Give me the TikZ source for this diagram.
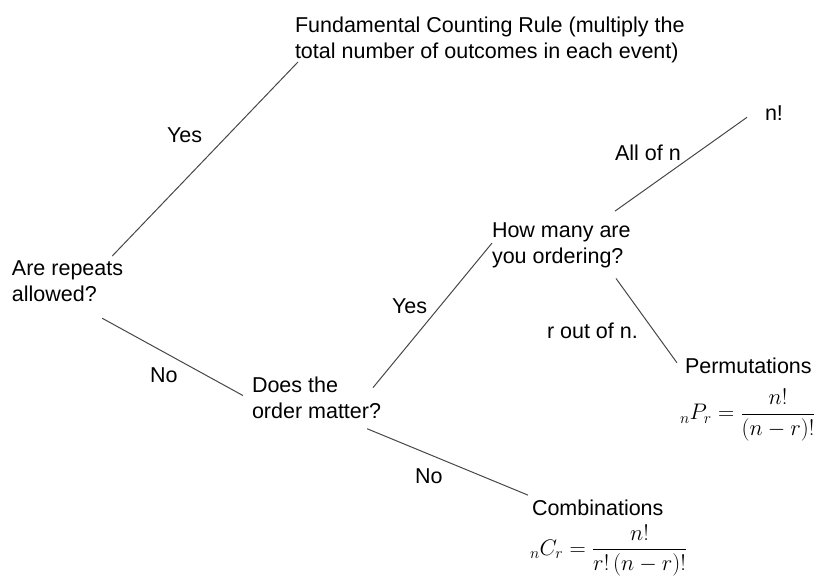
\RequirePackage{fix-cm}
\documentclass[tikz,border=0pt]{standalone}
\usepackage[no-math]{fontspec}
\setmainfont{Liberation Sans}
\usepackage{amsmath}
\usepackage{tikz}

\begin{document}
\begin{tikzpicture}[x=1pt,y=-1pt,
    every node/.style={inner sep=0pt,outer sep=0pt,font=\fontsize{21.5}{25.5}\selectfont},
    txt/.style={anchor=base west,align=left},
    lbl/.style={anchor=base west},
    frm/.style={anchor=west,font=\fontsize{22.5}{27}\selectfont},
    link/.style={draw=black!72,line width=1pt}]
        \useasboundingbox (0,0) rectangle (830,578);

        \node[txt] (fcr) at (295,58.5) {Fundamental Counting Rule (multiply the\\total number of outcomes in each event)};
        \node[txt] (repeats) at (12,301) {Are repeats\\allowed?};
        \node[txt] (order) at (252,418) {Does the\\order matter?};
        \node[txt] (howmany) at (492,263) {How many are\\you ordering?};
        \node[txt] (nfact) at (765,121) {n!};
        \node[txt] (perm) at (685,373) {Permutations};
        \node[frm] (permf) at (680,415) {${}_{n}P_{r} = \dfrac{n!}{(n-r)!}$};
        \node[txt] (comb) at (532,515) {Combinations};
        \node[frm] (combf) at (530,550.5) {${}_{n}C_{r} = \dfrac{n!}{r!\,(n-r)!}$};

        \node[lbl] (yes1) at (167,142) {Yes};
        \node[lbl] (no1) at (150,382) {No};
        \node[lbl] (yes2) at (392,313) {Yes};
        \node[lbl] (alln) at (615,160) {All of n};
        \node[lbl] (routn) at (547,338) {r out of n.};
        \node[lbl] (no2) at (415,483) {No};

        \draw[link] ([shift={(-11,-4.6)}]repeats.north east) -- ([shift={(3,-1)}]fcr.south west);
        \draw[link] ([shift={(-21,17)}]repeats.south east) -- ([shift={(-9,-2)}]order.west);
        \draw[link] ([shift={(-8,-10)}]order.east) -- ([shift={(0,-2)}]howmany.west);
        \draw[link] ([shift={(-14,10.5)}]order.south east) -- ([shift={(-4,-4.3)}]comb.north west);
        \draw[link] ([shift={(-15.6,-11.6)}]howmany.north east) -- ([shift={(-18,3.7)}]nfact.west);
        \draw[link] ([shift={(-14.6,11)}]howmany.south east) -- ([shift={(-8,-2.5)}]perm.west);
    \end{tikzpicture}
\end{document}
